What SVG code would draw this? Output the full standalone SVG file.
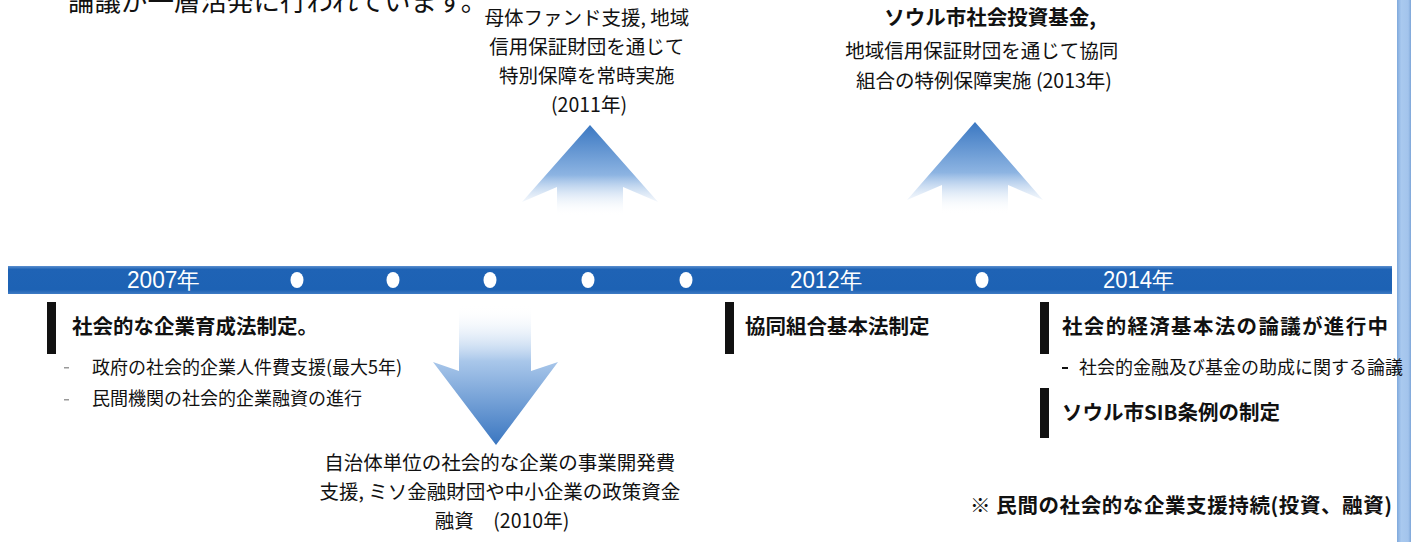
<svg xmlns="http://www.w3.org/2000/svg" width="1413" height="542" viewBox="0 0 1413 542">
<defs>
<style>
.t{font-family:"Noto Sans CJK JP","Noto Sans",sans-serif;fill:#111;}
.b{font-weight:bold;}
.yr{font-family:"Liberation Sans Narrow","Liberation Sans",sans-serif;fill:#fff;font-size:23px;}
.dot{fill:#fff;}
.mark{fill:#111;}
.dash{fill:#999;}
</style>
<linearGradient id="barG" x1="0" y1="0" x2="0" y2="1">
<stop offset="0" stop-color="#5b8fcf"/>
<stop offset="0.12" stop-color="#1f63b5"/>
<stop offset="0.85" stop-color="#1d62b4"/>
<stop offset="1" stop-color="#3f7bc4"/>
</linearGradient>
<linearGradient id="upG" x1="0" y1="0" x2="0" y2="1">
<stop offset="0" stop-color="#3b78c2"/>
<stop offset="0.55" stop-color="#8db4e2"/>
<stop offset="1" stop-color="#ffffff" stop-opacity="0"/>
</linearGradient>
<linearGradient id="downG" x1="0" y1="0" x2="0" y2="1">
<stop offset="0" stop-color="#ffffff" stop-opacity="0"/>
<stop offset="0.4" stop-color="#a9c7ea"/>
<stop offset="1" stop-color="#3a76c0"/>
</linearGradient>
<linearGradient id="sideG" x1="0" y1="0" x2="1" y2="0">
<stop offset="0" stop-color="#7fa9dc"/>
<stop offset="0.3" stop-color="#a9c9ef"/>
<stop offset="0.8" stop-color="#a3c4ec"/>
<stop offset="1" stop-color="#7ea6d8"/>
</linearGradient>
</defs>
<rect width="1413" height="542" fill="#fff"/>

<g id="intro">
<text class="t" x="68" y="11" font-size="26.5">論議が一層活発に行われています。</text>
</g>

<rect id="side-stripe" x="1397" y="0" width="14" height="542" fill="url(#sideG)"/>

<g id="timeline">
<rect x="8" y="266" width="1384" height="28" fill="url(#barG)"/>
<text class="yr" x="127" y="288" textLength="73" lengthAdjust="spacingAndGlyphs">2007年</text>
<text class="yr" x="790" y="288" textLength="72" lengthAdjust="spacingAndGlyphs">2012年</text>
<text class="yr" x="1103" y="288" textLength="71" lengthAdjust="spacingAndGlyphs">2014年</text>
<ellipse class="dot" cx="297" cy="280" rx="6.5" ry="8"/>
<ellipse class="dot" cx="393" cy="280" rx="6.5" ry="8"/>
<ellipse class="dot" cx="490" cy="280" rx="6.5" ry="8"/>
<ellipse class="dot" cx="588" cy="280" rx="6.5" ry="8"/>
<ellipse class="dot" cx="686" cy="280" rx="6.5" ry="8"/>
<ellipse class="dot" cx="982" cy="280" rx="6.5" ry="8"/>
</g>

<g id="connectors">
<path id="arrow-2011" d="M590,125 L658,202 L623,187 L623,216 L557,216 L557,187 L522,202 Z" fill="url(#upG)"/>
<path id="arrow-2013" d="M975,122 L1043,200 L1008,185 L1008,214 L942,214 L942,185 L907,200 Z" fill="url(#upG)"/>
<path id="arrow-2010" d="M459,305 L531,305 L531,371 L558,362 L496,445 L433,362 L459,371 Z" fill="url(#downG)"/>
</g>

<g id="node-2011">
<text class="t" font-size="19.5" text-anchor="middle">
<tspan x="589" y="25">母体ファンド支援, 地域</tspan>
<tspan x="589" y="54">信用保証財団を通じて</tspan>
<tspan x="589" y="83">特別保障を常時実施</tspan>
<tspan x="589" y="112">(2011年)</tspan>
</text>
</g>

<g id="node-2013">
<text class="t b" font-size="20.5" text-anchor="middle" x="990" y="25">ソウル市社会投資基金,</text>
<text class="t" font-size="19.5" text-anchor="middle">
<tspan x="984" y="58">地域信用保証財団を通じて協同</tspan>
<tspan x="984" y="88">組合の特例保障実施 (2013年)</tspan>
</text>
</g>

<g id="node-2007">
<rect class="mark" x="47" y="302" width="9" height="52"/>
<text class="t b" font-size="20.5" x="72" y="334">社会的な企業育成法制定。</text>
<rect class="dash" x="64" y="367" width="5" height="1.5"/>
<text class="t" font-size="18" x="92" y="374">政府の社会的企業人件費支援(最大5年)</text>
<rect class="dash" x="64" y="399" width="5" height="1.5"/>
<text class="t" font-size="18" x="92" y="405">民間機関の社会的企業融資の進行</text>
</g>

<g id="node-2010">
<text class="t" font-size="19.5" text-anchor="middle">
<tspan x="502" y="470">自治体単位の社会的な企業の事業開発費</tspan>
<tspan x="502" y="499">支援, ミソ金融財団や中小企業の政策資金</tspan>
<tspan x="502" y="528">融資　(2010年)</tspan>
</text>
</g>

<g id="node-2012">
<rect class="mark" x="725" y="302" width="9" height="52"/>
<text class="t b" font-size="20.5" x="745" y="334">協同組合基本法制定</text>
</g>

<g id="node-2014">
<rect class="mark" x="1040" y="302" width="9" height="52"/>
<text class="t b" font-size="20.5" x="1062" y="334" textLength="326" lengthAdjust="spacing">社会的経済基本法の論議が進行中</text>
<rect class="mark" x="1062" y="367" width="6" height="2"/>
<text class="t" font-size="18" x="1079" y="374">社会的金融及び基金の助成に関する論議</text>
<rect class="mark" x="1040" y="388" width="9" height="50"/>
<text class="t b" font-size="20.5" x="1062" y="420">ソウル市SIB条例の制定</text>
</g>

<g id="note">
<text class="t b" font-size="20.5" x="970" y="513" textLength="422" lengthAdjust="spacing">※ 民間の社会的な企業支援持続(投資、融資)</text>
</g>
</svg>
